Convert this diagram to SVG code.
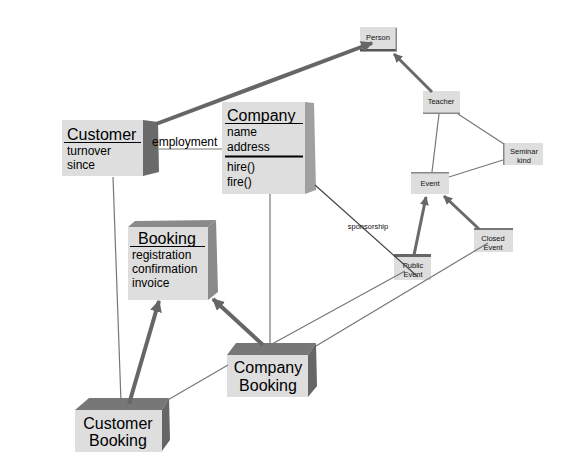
<svg xmlns="http://www.w3.org/2000/svg" width="582" height="471" viewBox="0 0 582 471">
<style>
.front{fill:#dedede}
.sideD{fill:#6a6a6a}
.sideM{fill:#8a8a8a}
.sideL{fill:#a0a0a0}
.big{font-family:"Liberation Sans",Arial,sans-serif;font-size:16px;fill:#000}
.attr{font-family:"Liberation Sans",Arial,sans-serif;font-size:12px;fill:#000}
.sm{font-family:"Liberation Sans",Arial,sans-serif;font-size:7.5px;fill:#111;text-anchor:middle}
.thin{stroke:#777;stroke-width:1.2;fill:none}
.thick{stroke:#666;stroke-width:4;fill:none}
.mid{stroke:#6a6a6a;stroke-width:3;fill:none}
.dark{stroke:#444;stroke-width:1.2;fill:none}
</style>
<defs>
<marker id="ah" viewBox="0 0 10 10" refX="9" refY="5" markerWidth="3" markerHeight="3" orient="auto" markerUnits="strokeWidth">
<path d="M0,0 L10,5 L0,10 z" fill="#666"/>
</marker>
</defs>
<rect width="582" height="471" fill="#fff"/>
<g id="customer">
<polygon class="sideD" points="143,120 158,122 159,172 143,176"/>
<rect class="front" x="62" y="120" width="81" height="56"/>
<text class="big" x="67" y="140">Customer</text>
<line x1="64" y1="142.5" x2="141" y2="142.5" stroke="#000" stroke-width="1.2"/>
<text class="attr" x="67" y="155">turnover</text>
<text class="attr" x="67" y="169">since</text>
</g>
<g id="company">
<polygon class="sideL" points="305,102 314,103 316,190 305,194"/>
<rect class="front" x="222" y="102" width="83" height="92"/>
<text class="big" x="227" y="121">Company</text>
<line x1="225" y1="123.5" x2="303" y2="123.5" stroke="#000" stroke-width="1.2"/>
<text class="attr" x="227" y="136">name</text>
<text class="attr" x="227" y="151">address</text>
<line x1="225" y1="156.5" x2="303" y2="156.5" stroke="#000" stroke-width="1.8"/>
<text class="attr" x="227" y="171">hire()</text>
<text class="attr" x="227" y="186">fire()</text>
</g>
<g id="booking">
<polygon class="sideM" points="128,227 135,221 216,220 208,227"/>
<polygon class="sideM" points="208,227 216,220 218,292 208,300"/>
<rect class="front" x="128" y="227" width="80" height="73"/>
<text class="big" x="138" y="244">Booking</text>
<line x1="130" y1="246.5" x2="205" y2="246.5" stroke="#000" stroke-width="1.2"/>
<text class="attr" x="132" y="259">registration</text>
<text class="attr" x="132" y="273">confirmation</text>
<text class="attr" x="132" y="287">invoice</text>
</g>
<g id="company-booking">
<polygon fill="#777" points="227,355 236,343 316,343 308,355"/>
<polygon fill="#666" points="308,355 316,343 317,386 308,397"/>
<rect class="front" x="227" y="355" width="81" height="42"/>
<text class="big" x="268" y="373" text-anchor="middle">Company</text>
<text class="big" x="268" y="391" text-anchor="middle">Booking</text>
</g>
<g id="customer-booking">
<polygon fill="#777" points="75,410 89,398 169,398 162,410"/>
<polygon fill="#666" points="162,410 169,398 170,440 162,451"/>
<rect class="front" x="75" y="410" width="87" height="42"/>
<text class="big" x="118" y="429" text-anchor="middle">Customer</text>
<text class="big" x="118" y="446" text-anchor="middle">Booking</text>
</g>
<g id="person">
<rect class="front" x="360" y="27" width="37" height="24"/>
<rect x="360" y="49" width="37" height="2.5" fill="#555"/>
<rect x="395.5" y="28" width="1.5" height="23" fill="#888"/>
<text class="sm" x="378" y="40">Person</text>
</g>
<g id="teacher">
<rect class="front" x="423" y="91" width="37" height="23"/>
<rect x="423" y="112.5" width="37" height="1.5" fill="#888"/>
<text class="sm" x="441" y="104">Teacher</text>
</g>
<g id="seminar-kind">
<rect class="front" x="503" y="143" width="40" height="22"/>
<rect x="503" y="143" width="1.5" height="22" fill="#888"/>
<text class="sm" x="524" y="154">Seminar</text>
<text class="sm" x="524" y="163">kind</text>
</g>
<g id="event">
<rect class="front" x="411" y="172" width="38" height="22"/>
<rect x="411" y="172" width="38" height="1.5" fill="#888"/>
<text class="sm" x="430" y="186">Event</text>
</g>
<g id="closed-event">
<rect class="front" x="474" y="228" width="39" height="24"/>
<rect x="474" y="228" width="39" height="2" fill="#777"/>
<text class="sm" x="493" y="241">Closed</text>
<text class="sm" x="493" y="250">Event</text>
</g>
<g id="public-event">
<rect class="front" x="394" y="254" width="37" height="26"/>
<rect x="394" y="254" width="37" height="3" fill="#666"/>
<text class="sm" x="413" y="268">Public</text>
<text class="sm" x="413" y="277">Event</text>
</g>
<g id="connectors">
<line class="thick" x1="156" y1="124" x2="372" y2="43" marker-end="url(#ah)"/>
<line class="mid" x1="432" y1="92" x2="394" y2="54" marker-end="url(#ah)"/>
<line class="thin" x1="439" y1="114" x2="432" y2="172"/>
<line class="thin" x1="458" y1="114" x2="504" y2="144"/>
<line class="thin" x1="503" y1="160" x2="449" y2="177"/>
<line class="mid" x1="414" y1="255" x2="426" y2="197" marker-end="url(#ah)"/>
<line class="mid" x1="479" y1="229" x2="444" y2="196" marker-end="url(#ah)"/>
<line class="dark" x1="315" y1="185" x2="418" y2="277"/>
<line class="thin" x1="405" y1="271" x2="272" y2="344"/>
<line class="thin" x1="488" y1="243" x2="316" y2="346"/>
<line class="thin" x1="270" y1="194" x2="270" y2="344"/>
<line class="thick" x1="263" y1="345" x2="213" y2="299" marker-end="url(#ah)"/>
<line class="thick" x1="129" y1="404" x2="159" y2="301" marker-end="url(#ah)"/>
<line class="thin" x1="113" y1="177" x2="121" y2="402"/>
<line class="thin" x1="166" y1="401" x2="228" y2="365"/>
<line class="thin" x1="159" y1="149" x2="222" y2="149"/>
<text class="attr" x="152" y="146">employment</text>
<text class="sm" x="368" y="229">sponsorship</text>
</g>
</svg>
